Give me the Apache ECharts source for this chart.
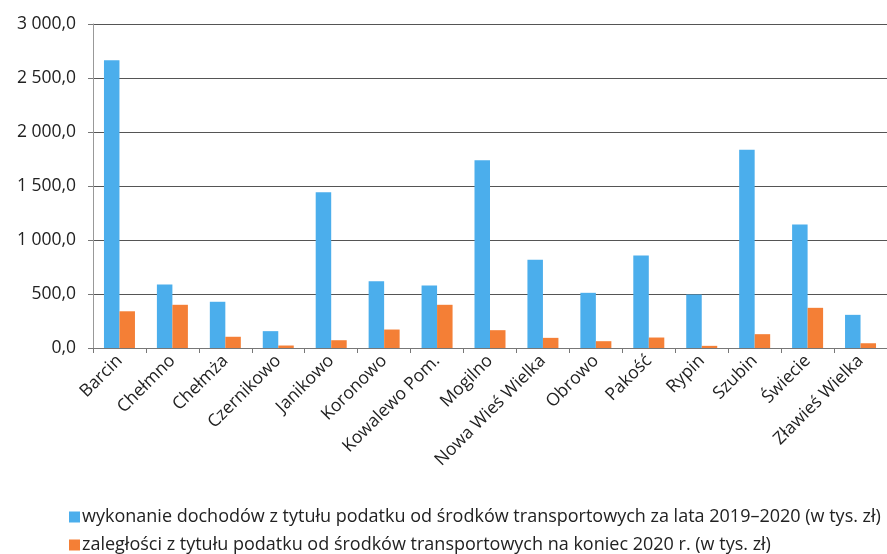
<!DOCTYPE html>
<html><head><meta charset="utf-8">
<script src="https://cdn.jsdelivr.net/npm/echarts@6/dist/echarts.min.js"></script>
<style>html,body{margin:0;padding:0;background:#fff}#c{width:887px;height:554px}</style>
</head><body><div id="c"></div>
<script>
const categories = ['Barcin','Chełmno','Chełmża','Czernikowo','Janikowo','Koronowo','Kowalewo Pom.','Mogilno','Nowa Wieś Wielka','Obrowo','Pakość','Rypin','Szubin','Świecie','Zławieś Wielka'];
const dochody = [2665, 588, 428, 156, 1443, 619, 579, 1739, 817, 511, 856, 495, 1835, 1143, 307];
const zaleglosci = [340, 400, 104, 23, 72, 171, 400, 165, 94, 63, 97, 20, 128, 372, 44];
const yTicks = [0, 500, 1000, 1500, 2000, 2500, 3000];
const seriesNames = ['wykonanie dochodów z tytułu podatku od środków transportowych za lata 2019–2020 (w tys. zł)','zaległości z tytułu podatku od środków transportowych na koniec 2020 r. (w tys. zł)'];

function fmt(v){
  const s = v.toFixed(1).split('.');
  const intPart = s[0].replace(/\B(?=(\d{3})+(?!\d))/g, ' ');
  return intPart + ',' + s[1];
}
const font = 'Open Sans';
const legendBase = {left:64, itemWidth:11, itemHeight:11, icon:'rect',
  textStyle:{fontFamily:font, fontSize:18, color:'#222', padding:[0,0,0,-3]}};
const chart = echarts.init(document.getElementById('c'));
chart.setOption({
  animation:false,
  textStyle:{fontFamily:font},
  grid:{left:93, top:24, width:802, height:324},
  legend:[
    Object.assign({}, legendBase, {top:503, data:[seriesNames[0]]}),
    Object.assign({}, legendBase, {top:531, data:[seriesNames[1]]})
  ],
  xAxis:{
    type:'category', data:categories,
    axisLine:{lineStyle:{color:'#777'}},
    axisTick:{show:true, length:5, lineStyle:{color:'#777'}},
    axisLabel:{rotate:45, fontSize:17.5, color:'#222', fontFamily:font, margin:10, interval:0}
  },
  yAxis:{
    type:'value', min:yTicks[0], max:yTicks[yTicks.length-1], interval:500,
    axisLine:{show:true, lineStyle:{color:'#999'}},
    axisTick:{show:true, length:5, lineStyle:{color:'#777'}},
    splitLine:{lineStyle:{color:'#555', width:1}},
    axisLabel:{formatter:fmt, fontSize:17.5, color:'#222', fontFamily:font, margin:17}
  },
  series:[
    {name:seriesNames[0], type:'bar', data:dochody, barWidth:15.5, barGap:'0%', itemStyle:{color:'#4BAEEC'}},
    {name:seriesNames[1], type:'bar', data:zaleglosci, barWidth:15.5, barGap:'0%', itemStyle:{color:'#F47F36'}}
  ]
});
</script></body></html>
